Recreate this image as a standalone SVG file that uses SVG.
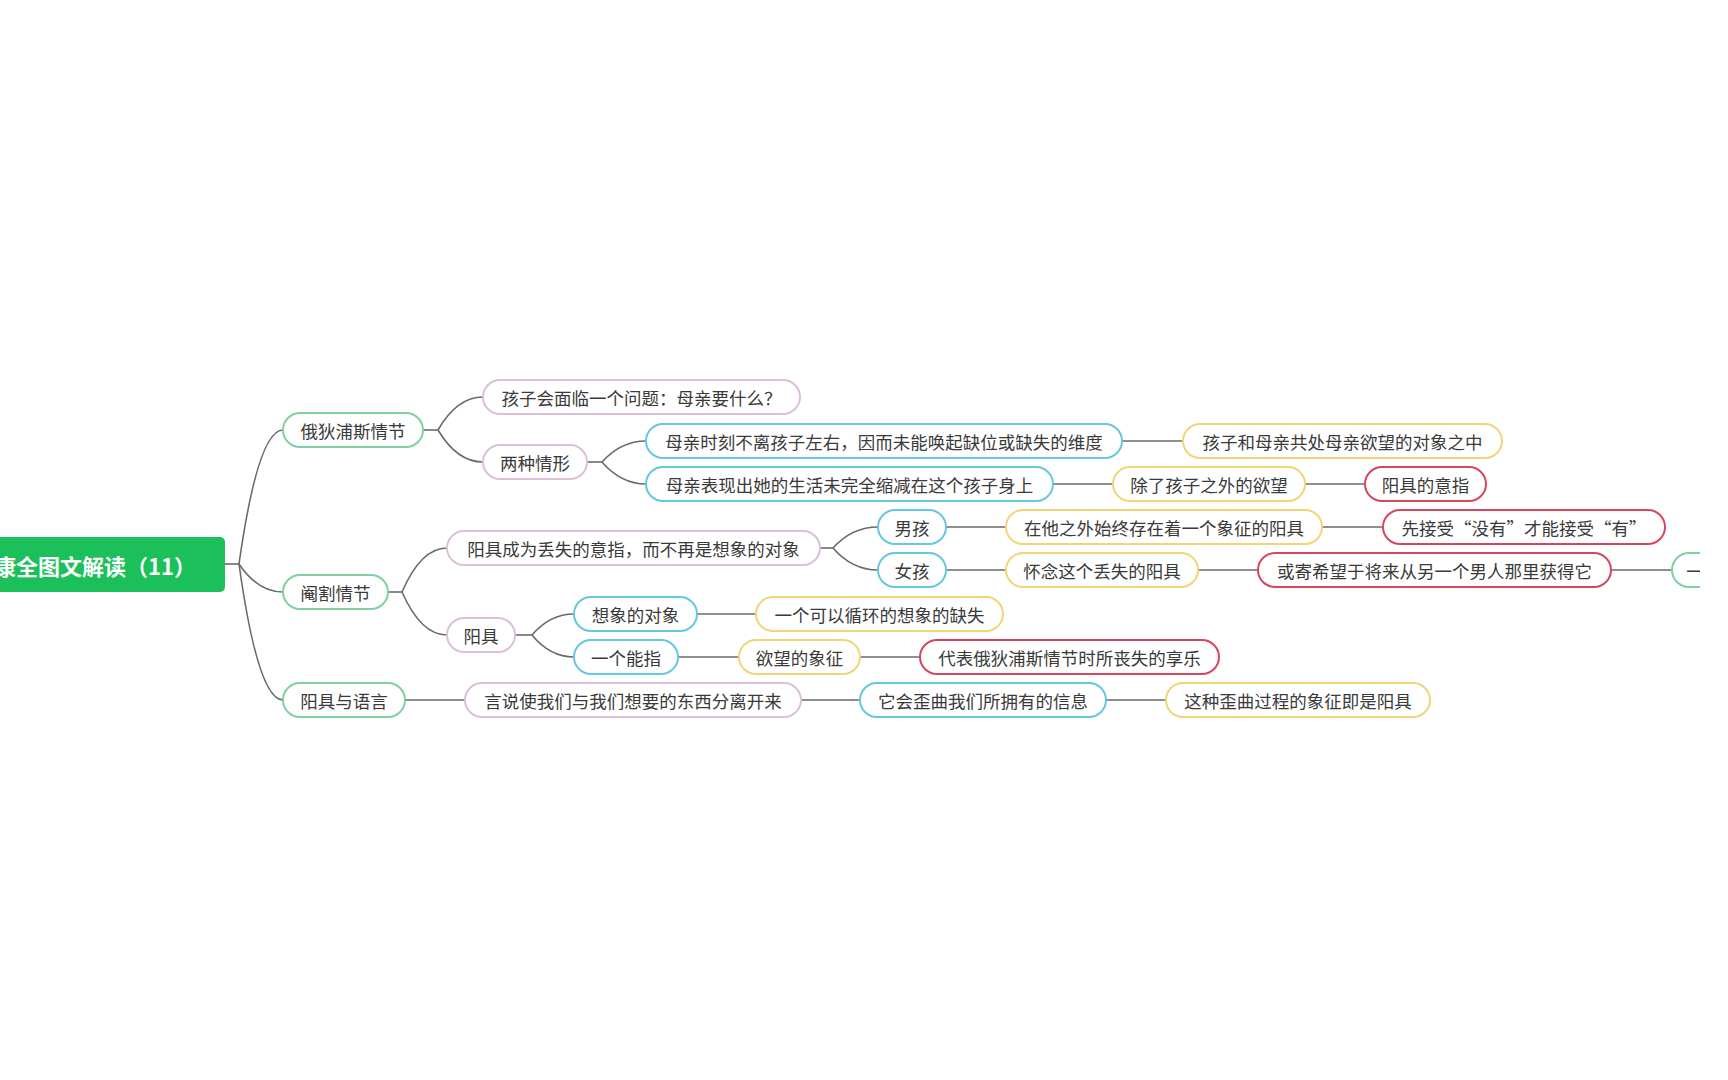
<svg xmlns="http://www.w3.org/2000/svg" width="1728" height="1080" viewBox="0 0 1728 1080">
<style>
.n rect{fill:#ffffff;stroke-width:2}
.n text{font-family:"Noto Sans CJK SC","Noto Sans",sans-serif;font-size:17.5px;fill:#3a3a3a;text-anchor:middle;dominant-baseline:central}
.g rect{stroke:#7fd1a1}
.p rect{stroke:#dcbfd9}
.c rect{stroke:#66c7e0}
.y rect{stroke:#f0d679}
.r rect{stroke:#d6475f}
#connectors path{fill:none;stroke:#6a6a6a;stroke-width:1.6}
</style>
<defs>
<clipPath id="clipRight"><rect x="0" y="0" width="1700" height="1080"/></clipPath>
</defs>
<rect x="0" y="0" width="1728" height="1080" fill="#ffffff"/>
<g id="connectors">
<path d="M225 564 H239"/>
<path d="M239 564 Q258 430 283 430"/>
<path d="M239 564 Q258 592 283 592"/>
<path d="M239 564 Q258 700 283 700"/>
<path d="M423 430 H438"/>
<path d="M438 430 Q457 397 483 397"/>
<path d="M438 430 Q457 462 483 462"/>
<path d="M587 462 H602"/>
<path d="M602 462 Q621 441 646 441"/>
<path d="M602 462 Q621 484 646 484"/>
<path d="M1122 441 H1183"/>
<path d="M1053 484 H1113"/>
<path d="M1305 484 H1365"/>
<path d="M388 592 H402"/>
<path d="M402 592 Q421 548 447 548"/>
<path d="M402 592 Q421 635 447 635"/>
<path d="M820 548 H833"/>
<path d="M833 548 Q852 527 878 527"/>
<path d="M833 548 Q852 570 878 570"/>
<path d="M946 527 H1006"/>
<path d="M1322 527 H1383"/>
<path d="M946 570 H1006"/>
<path d="M1198 570 H1258"/>
<path d="M1611 570 H1672"/>
<path d="M515 635 H532"/>
<path d="M532 635 Q550 614 574 614"/>
<path d="M532 635 Q550 657 574 657"/>
<path d="M697 614 H756"/>
<path d="M678 657 H739"/>
<path d="M860 657 H920"/>
<path d="M405 700 H465"/>
<path d="M801 700 H860"/>
<path d="M1106 700 H1166"/>
</g>
<g id="root">
<rect x="-10" y="537" width="235" height="55" rx="5" fill="#1cc05b"/>
<text x="196" y="565" font-family="'Noto Sans CJK SC','Noto Sans',sans-serif" font-size="22" font-weight="bold" fill="#ffffff" text-anchor="end" dominant-baseline="central">康全图文解读（11）</text>
</g>
<g id="n-oedipus" class="n g"><rect x="283" y="413" width="140" height="34" rx="17"/><text x="353" y="430">俄狄浦斯情节</text></g>
<g id="n-castration" class="n g"><rect x="283" y="575" width="105" height="34" rx="17"/><text x="335.5" y="592">阉割情节</text></g>
<g id="n-phallus-language" class="n g"><rect x="283" y="683" width="122" height="34" rx="17"/><text x="344" y="700">阳具与语言</text></g>
<g id="n-question" class="n p"><rect x="483" y="380" width="317" height="34" rx="17"/><text x="641.5" y="397">孩子会面临一个问题：母亲要什么？</text></g>
<g id="n-two-cases" class="n p"><rect x="483" y="445" width="104" height="34" rx="17"/><text x="535" y="462">两种情形</text></g>
<g id="n-lost-signifier" class="n p"><rect x="447" y="531" width="373" height="34" rx="17"/><text x="633.5" y="548">阳具成为丢失的意指，而不再是想象的对象</text></g>
<g id="n-phallus" class="n p"><rect x="447" y="618" width="68" height="34" rx="17"/><text x="481" y="635">阳具</text></g>
<g id="n-speech" class="n p"><rect x="465" y="683" width="336" height="34" rx="17"/><text x="633" y="700">言说使我们与我们想要的东西分离开来</text></g>
<g id="n-mother-always" class="n c"><rect x="646" y="424" width="476" height="34" rx="17"/><text x="884" y="441">母亲时刻不离孩子左右，因而未能唤起缺位或缺失的维度</text></g>
<g id="n-mother-life" class="n c"><rect x="646" y="467" width="407" height="34" rx="17"/><text x="849.5" y="484">母亲表现出她的生活未完全缩减在这个孩子身上</text></g>
<g id="n-boy" class="n c"><rect x="878" y="510" width="68" height="34" rx="17"/><text x="912" y="527">男孩</text></g>
<g id="n-girl" class="n c"><rect x="878" y="553" width="68" height="34" rx="17"/><text x="912" y="570">女孩</text></g>
<g id="n-imaginary-object" class="n c"><rect x="574" y="597" width="123" height="34" rx="17"/><text x="635.5" y="614">想象的对象</text></g>
<g id="n-a-signifier" class="n c"><rect x="574" y="640" width="104" height="34" rx="17"/><text x="626" y="657">一个能指</text></g>
<g id="n-distort" class="n c"><rect x="860" y="683" width="246" height="34" rx="17"/><text x="983" y="700">它会歪曲我们所拥有的信息</text></g>
<g id="n-coexist" class="n y"><rect x="1183" y="424" width="319" height="34" rx="17"/><text x="1342.5" y="441">孩子和母亲共处母亲欲望的对象之中</text></g>
<g id="n-other-desire" class="n y"><rect x="1113" y="467" width="192" height="34" rx="17"/><text x="1209" y="484">除了孩子之外的欲望</text></g>
<g id="n-symbolic-phallus" class="n y"><rect x="1006" y="510" width="316" height="34" rx="17"/><text x="1164" y="527">在他之外始终存在着一个象征的阳具</text></g>
<g id="n-miss" class="n y"><rect x="1006" y="553" width="192" height="34" rx="17"/><text x="1102" y="570">怀念这个丢失的阳具</text></g>
<g id="n-circulating-lack" class="n y"><rect x="756" y="597" width="247" height="34" rx="17"/><text x="879.5" y="614">一个可以循环的想象的缺失</text></g>
<g id="n-desire-symbol" class="n y"><rect x="739" y="640" width="121" height="34" rx="17"/><text x="799.5" y="657">欲望的象征</text></g>
<g id="n-distortion-symbol" class="n y"><rect x="1166" y="683" width="264" height="34" rx="17"/><text x="1298" y="700">这种歪曲过程的象征即是阳具</text></g>
<g id="n-phallic-signification" class="n r"><rect x="1365" y="467" width="121" height="34" rx="17"/><text x="1425.5" y="484">阳具的意指</text></g>
<g id="n-accept" class="n r"><rect x="1383" y="510" width="282" height="34" rx="17"/><text x="1524" y="527">先接受“没有”才能接受“有”</text></g>
<g id="n-hope" class="n r"><rect x="1258" y="553" width="353" height="34" rx="17"/><text x="1434.5" y="570">或寄希望于将来从另一个男人那里获得它</text></g>
<g id="n-jouissance" class="n r"><rect x="920" y="640" width="299" height="34" rx="17"/><text x="1069.5" y="657">代表俄狄浦斯情节时所丧失的享乐</text></g>
<g id="n-cut" class="n g" clip-path="url(#clipRight)"><rect x="1672" y="553" width="120" height="34" rx="17"/><text x="1695" y="570">一</text></g>
</svg>
